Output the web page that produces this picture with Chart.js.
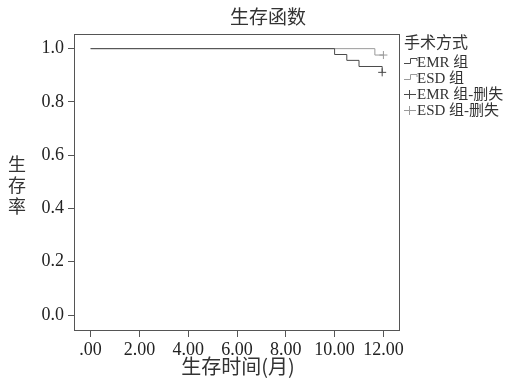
<!DOCTYPE html>
<html>
<head>
<meta charset="utf-8">
<script src="https://cdn.jsdelivr.net/npm/chart.js@4.4.0/dist/chart.umd.min.js"></script>
<style>
  body { margin: 0; background: #fff; }
  #wrap { width: 506px; height: 382px; }
</style>
</head>
<body>
<div id="wrap"><canvas id="kmChart" width="506" height="382"></canvas></div>
<script>
// survival curves (time in months, cumulative survival)
const emrTimes = [0, 10.0, 10.5, 11.0, 11.95];
const emrSurv = [1.0, 0.978, 0.956, 0.933, 0.911];
const esdTimes = [0, 11.65, 12.0];
const esdSurv = [1.0, 0.976, 0.976];
// censored points
const emrCensorTimes = [11.95];
const emrCensorSurv = [0.911];
const esdCensorTimes = [12.0];
const esdCensorSurv = [0.976];
// tick labels
const xTicks = [0, 2, 4, 6, 8, 10, 12];
const yTicks = [0, 0.2, 0.4, 0.6, 0.8, 1.0];
const legendLabels = ['EMR 组', 'ESD 组', 'EMR 组-删失', 'ESD 组-删失'];

const serif = "'Liberation Serif', 'Noto Sans CJK SC', serif";
const cjk = "'Noto Sans CJK SC', 'Liberation Serif', serif";
const emrColor = '#4a4a4a';
const esdColor = '#9a9a9a';
const frameColor = '#555';

const toPts = (xs, ys) => xs.map((x, i) => ({ x: x, y: ys[i] }));

const decorations = {
    id: 'decorations',
    afterDraw(chart) {
        const ctx = chart.ctx;
        const a = chart.chartArea;
        ctx.save();
        // plot frame
        ctx.strokeStyle = frameColor;
        ctx.lineWidth = 1;
        ctx.strokeRect(a.left + 0.5, a.top + 0.5, a.right - a.left - 1, a.bottom - a.top - 1);

        ctx.fillStyle = '#333';
        ctx.textAlign = 'center';
        ctx.textBaseline = 'middle';
        // title
        ctx.font = '19px ' + cjk;
        ctx.fillText('生存函数', 268, 17);
        // x axis title
        ctx.font = '20px ' + cjk;
        ctx.fillText('生存时间(月)', 238, 366);
        // y axis title, stacked characters
        ctx.font = '18px ' + cjk;
        ['生', '存', '率'].forEach((c, i) => ctx.fillText(c, 17, 164 + i * 21));

        // legend
        ctx.textAlign = 'left';
        ctx.font = '16px ' + cjk;
        ctx.fillText('手术方式', 404, 42);
        ctx.font = '15px ' + serif;
        const rows = [62, 78, 94, 110];
        const colors = [emrColor, esdColor, emrColor, esdColor];
        legendLabels.forEach((lab, i) => {
            const y = rows[i];
            ctx.strokeStyle = colors[i];
            ctx.lineWidth = 1;
            ctx.beginPath();
            if (i < 2) {
                ctx.moveTo(404, y + 1.5);
                ctx.lineTo(410.5, y + 1.5);
                ctx.lineTo(410.5, y - 3.5);
                ctx.lineTo(417, y - 3.5);
                ctx.lineTo(417, y - 1);
            } else {
                ctx.moveTo(404, y + 0.5);
                ctx.lineTo(416, y + 0.5);
                ctx.moveTo(409.5, y - 4);
                ctx.lineTo(409.5, y + 5);
            }
            ctx.stroke();
            ctx.fillStyle = '#333';
            ctx.fillText(lab, 417, y + 1);
        });
        ctx.restore();
    }
};

new Chart(document.getElementById('kmChart'), {
    type: 'line',
    data: {
        datasets: [
            {
                label: 'EMR 组',
                data: toPts(emrTimes, emrSurv),
                stepped: 'before',
                borderColor: emrColor,
                borderWidth: 1,
                pointRadius: 0,
                fill: false
            },
            {
                label: 'ESD 组',
                data: toPts(esdTimes, esdSurv),
                stepped: 'before',
                borderColor: esdColor,
                borderWidth: 1,
                pointRadius: 0,
                fill: false
            },
            {
                label: 'EMR 组-删失',
                data: toPts(emrCensorTimes, emrCensorSurv),
                showLine: false,
                pointStyle: 'cross',
                pointRadius: 4,
                borderColor: emrColor,
                borderWidth: 1
            },
            {
                label: 'ESD 组-删失',
                data: toPts(esdCensorTimes, esdCensorSurv),
                showLine: false,
                pointStyle: 'cross',
                pointRadius: 4,
                borderColor: esdColor,
                borderWidth: 1
            }
        ]
    },
    options: {
        responsive: false,
        animation: false,
        layout: { padding: { left: 0, right: 106, top: 34, bottom: 0 } },
        plugins: {
            legend: { display: false },
            title: { display: false },
            tooltip: { enabled: false }
        },
        scales: {
            x: {
                type: 'linear',
                min: -0.68,
                max: 12.68,
                afterBuildTicks: (s) => { s.ticks = xTicks.map(v => ({ value: v })); },
                afterFit: (s) => { s.height = 51; },
                border: { display: false },
                grid: { drawOnChartArea: false, drawTicks: true, tickLength: 6, color: frameColor },
                ticks: {
                    color: '#222',
                    padding: 2,
                    maxRotation: 0,
                    font: { family: serif, size: 18 },
                    callback: (v) => v === 0 ? '.00' : v.toFixed(2)
                }
            },
            y: {
                min: -0.06,
                max: 1.055,
                afterBuildTicks: (s) => { s.ticks = yTicks.map(v => ({ value: v })); },
                afterFit: (s) => { s.width = 74; },
                border: { display: false },
                grid: { drawOnChartArea: false, drawTicks: true, tickLength: 6, color: frameColor },
                ticks: {
                    color: '#222',
                    padding: 4,
                    font: { family: serif, size: 18 },
                    callback: (v) => v.toFixed(1)
                }
            }
        }
    },
    plugins: [decorations]
});
</script>
</body>
</html>
